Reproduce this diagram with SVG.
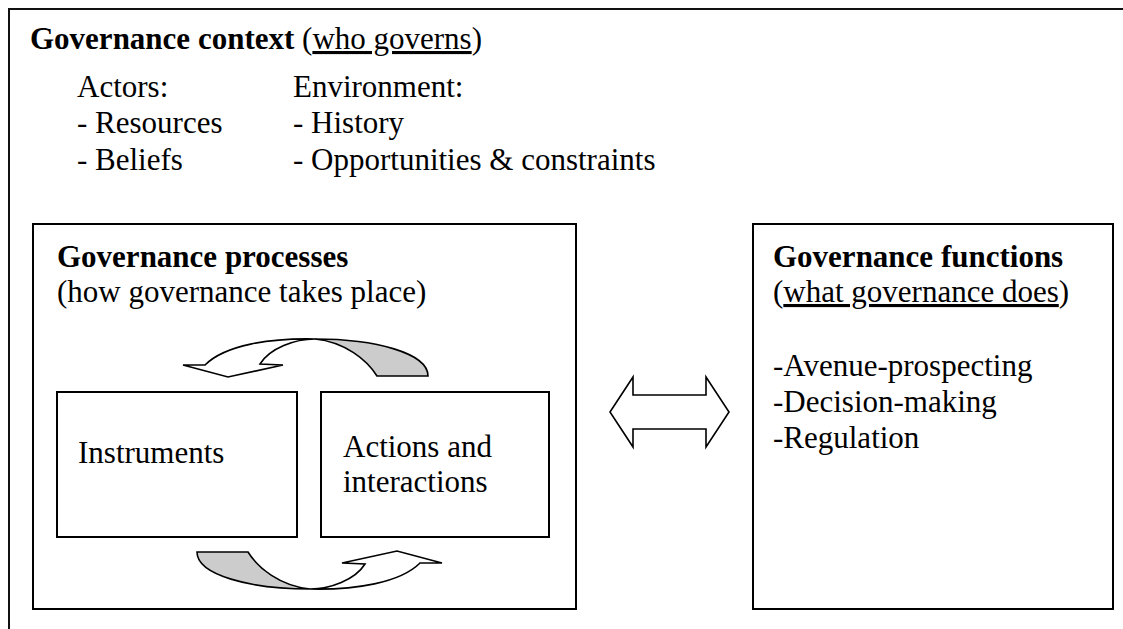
<svg xmlns="http://www.w3.org/2000/svg" width="1123" height="629" viewBox="0 0 1123 629">
  <style>
    text { font-family: "Liberation Serif", "Times New Roman", serif; font-size: 31px; fill: #000; }
    .b { font-weight: bold; }
    .u { text-decoration: underline; }
    .box { fill: #fff; stroke: #000; stroke-width: 2; }
    .band { stroke: #000; stroke-width: 1.6; stroke-linejoin: miter; }
    .front { fill: #fff; }
    .back { fill: #cccccc; }
  </style>
  <defs>
    <!-- curved ribbon arrow: grey tail on the left, head pointing up-right -->
    <g id="curved-arrow">
      <path class="band back" d="M197,552 L248,552 C258,568 280,586 310,589 C250,589 197,575 197,552 Z"/>
      <path class="band front" d="M310,589 C355,590 400,583 420,563 L442,563 L397,551 L342,563 L365,564 C355,580 330,589 310,589 Z"/>
    </g>
  </defs>

  <rect width="1123" height="629" fill="#fff"/>

  <!-- outer context frame (runs off the right and bottom edges) -->
  <g id="context">
    <rect x="9" y="9" width="1300" height="800" fill="none" stroke="#111" stroke-width="2"/>
    <text x="30" y="49"><tspan class="b">Governance context</tspan> (<tspan class="u">who governs</tspan>)</text>
    <text x="77" y="97">Actors:</text>
    <text x="77" y="133">- Resources</text>
    <text x="77" y="170">- Beliefs</text>
    <text x="293" y="97">Environment:</text>
    <text x="293" y="133">- History</text>
    <text x="293" y="170">- Opportunities &amp; constraints</text>
  </g>

  <g id="processes">
    <rect class="box" x="33" y="224" width="543" height="385"/>
    <text class="b" x="57" y="267">Governance processes</text>
    <text x="57" y="302">(how governance takes place)</text>
  </g>

  <g id="instruments">
    <rect class="box" x="57" y="392" width="240" height="145"/>
    <text x="78" y="463">Instruments</text>
  </g>

  <g id="actions">
    <rect class="box" x="321" y="392" width="228" height="145"/>
    <text x="343" y="457">Actions and</text>
    <text x="343" y="492">interactions</text>
  </g>

  <g id="functions">
    <rect class="box" x="753" y="224" width="360" height="385"/>
    <text class="b" x="773" y="267">Governance functions</text>
    <text x="773" y="302">(<tspan class="u">what governance does</tspan>)</text>
    <text x="773" y="376">-Avenue-prospecting</text>
    <text x="773" y="412">-Decision-making</text>
    <text x="773" y="448">-Regulation</text>
  </g>

  <g id="connectors">
    <!-- cycle between instruments and actions -->
    <use href="#curved-arrow"/>
    <use href="#curved-arrow" transform="rotate(180 312.5 464)"/>
    <!-- two-way link between processes and functions -->
    <path class="band front" d="M610,412 L633,377 L633,395 L706,395 L706,377 L729,412 L706,447 L706,429 L633,429 L633,447 Z"/>
  </g>
</svg>
